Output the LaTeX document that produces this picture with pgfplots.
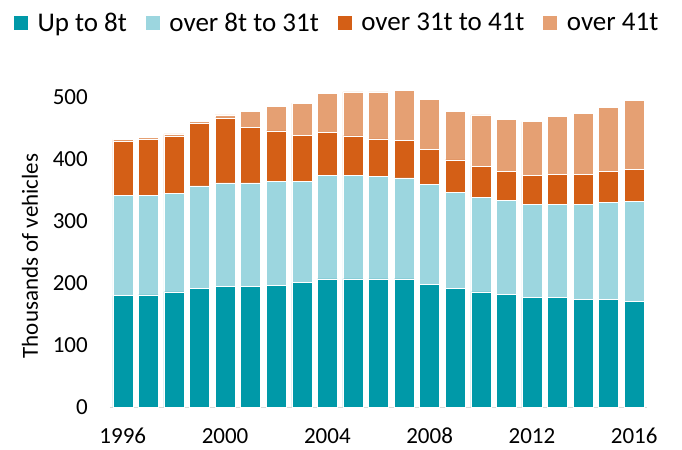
\documentclass[border=0pt]{standalone}
\usepackage{pgfplots}
\pgfplotsset{compat=1.18}
\usepackage{pgfplotstable}
\usepackage{fontspec}
\setmainfont{Carlito}
\definecolor{cA}{RGB}{0,153,168}
\definecolor{cB}{RGB}{156,214,223}
\definecolor{cC}{RGB}{212,95,22}
\definecolor{cD}{RGB}{229,160,115}
\pgfplotstableread{
year a b c d
1996 180 162 88 2
1997 181 161 90 3
1998 186 159 93 3
1999 192 165 101 3
2000 195 167 105 5
2001 195 167 90 26
2002 197 167 82 40
2003 201 163 75 52
2004 207 167 70 62
2005 207 167 64 71
2006 207 165 61 76
2007 207 163 61 81
2008 198 161 57 81
2009 192 155 52 79
2010 186 153 50 83
2011 182 152 47 84
2012 177 150 47 87
2013 177 150 49 93
2014 174 153 49 98
2015 174 156 51 103
2016 171 161 52 111
}\data
\begin{document}
\begin{tikzpicture}
\begin{axis}[
  scale only axis,
  width=537bp, height=340.5bp,
  ybar stacked,
  bar width=0.78,
  xmin=1995.5, xmax=2016.5,
  ymin=0, ymax=550,
  xtick={1996,2000,2004,2008,2012,2016},
  ytick={0,100,200,300,400,500},
  x tick label style={/pgf/number format/1000 sep={}},
  /pgf/number format/assume math mode=true,
  axis x line*=bottom,
  axis y line*=left,
  x axis line style={draw={rgb,255:red,217;green,217;blue,217}, line width=1bp, -},
  y axis line style={draw=none},
  major tick length=0pt,
  tick style={draw=none},
  every tick label/.append style={font=\fontsize{23bp}{27bp}\selectfont, inner sep=0pt},
  yticklabel style={anchor=east, xshift=-22bp},
  xticklabel style={anchor=north, yshift=-21bp},
  ylabel={Thousands of vehicles},
  every axis y label/.style={at={(axis description cs:-0.149,0.4435)}, anchor=center, rotate=90, font=\fontsize{23bp}{27bp}\selectfont},
  legend columns=4,
  legend cell align=left,
  legend style={draw=none, fill=none, at={(axis description cs:-0.1806,1.1278)}, anchor=west, inner sep=0pt, outer sep=0pt,
    font=\fontsize{27bp}{31bp}\selectfont,
    nodes={inner sep=0pt},
    /tikz/every odd column/.append style={column sep=9bp},
    /tikz/every even column/.append style={column sep=18bp}},
  legend image code/.code={\fill[#1] (0bp,-7.5bp) rectangle (15bp,7.5bp);},
]
\addplot[fill=cA, draw=white, line width=0.5bp] table[x=year,y=a]{\data};
\addplot[fill=cB, draw=white, line width=0.5bp] table[x=year,y=b]{\data};
\addplot[fill=cC, draw=white, line width=0.5bp] table[x=year,y=c]{\data};
\addplot[fill=cD, draw=white, line width=0.5bp] table[x=year,y=d]{\data};
\legend{Up to 8t, over 8t to 31t, over 31t to 41t, over 41t}
\end{axis}
\path (-110bp,-43bp) rectangle (572bp,407bp);
\end{tikzpicture}
\end{document}
